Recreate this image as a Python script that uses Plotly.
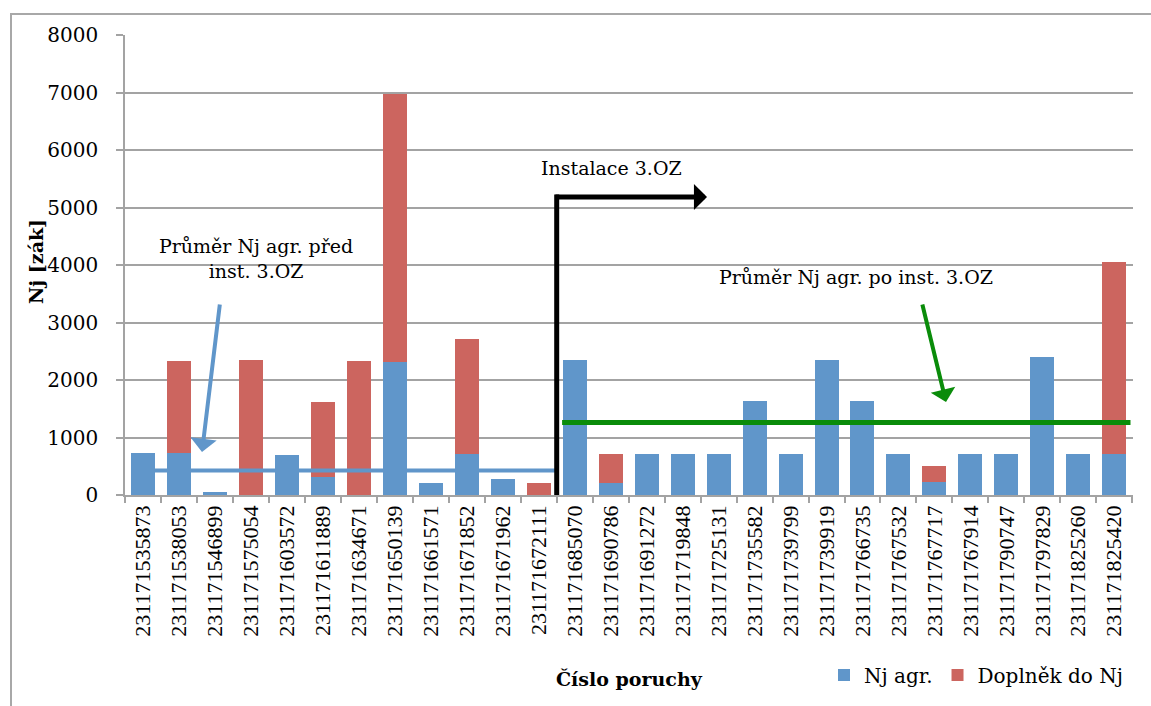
import plotly.graph_objects as go

# ---------------- data ----------------
categories = [
    "231171535873", "231171538053", "231171546899", "231171575054",
    "231171603572", "231171611889", "231171634671", "231171650139",
    "231171661571", "231171671852", "231171671962", "231171672111",
    "231171685070", "231171690786", "231171691272", "231171719848",
    "231171725131", "231171735582", "231171739799", "231171739919",
    "231171766735", "231171767532", "231171767717", "231171767914",
    "231171790747", "231171797829", "231171825260", "231171825420",
]
nj_agr = [725, 725, 50, 0, 690, 320, 0, 2313, 203, 713, 278, 0,
          2348, 203, 713, 713, 713, 1630, 713, 2348, 1630, 713, 220, 713,
          713, 2406, 713, 713]
doplnek = [0, 1610, 0, 2345, 0, 1303, 2325, 4667, 0, 1995, 0, 203,
           0, 510, 0, 0, 0, 0, 0, 0, 0, 0, 284, 0,
           0, 0, 0, 3337]
avg_before = 425      # Průměr Nj agr. před inst. 3.OZ
avg_after = 1260      # Průměr Nj agr. po inst. 3.OZ
split_index = 11.5    # boundary: Instalace 3.OZ
install_marker_y = 5180
y_ticks = [0, 1000, 2000, 3000, 4000, 5000, 6000, 7000, 8000]

BLUE = "#6096CA"
RED = "#CC655F"
GREEN = "#0A8C0A"
GRID = "#A3A3A3"
SERIF = "DejaVu Serif"

W, H = 1151, 706
L, R, T, B = 125, 18, 35, 211
PW, PH = W - L - R, H - T - B


def px(x):
    return (x - L) / PW


def py(y):
    return (H - B - y) / PH


fig = go.Figure()
fig.add_trace(go.Bar(x=categories, y=nj_agr, name="Nj agr.",
                     marker=dict(color=BLUE, line=dict(width=0))))
fig.add_trace(go.Bar(x=categories, y=doplnek, name="Doplněk do Nj",
                     marker=dict(color=RED, line=dict(width=0))))

shapes = [
    # outer chart border
    dict(type="rect", xref="paper", yref="paper",
         x0=px(11), x1=px(1165), y0=py(14), y1=py(720),
         line=dict(color="#A8A8A8", width=2), layer="below"),
    # average before
    dict(type="line", xref="x", yref="y", x0=0.33, x1=split_index,
         y0=avg_before, y1=avg_before, line=dict(color=BLUE, width=4)),
    # average after
    dict(type="line", xref="x", yref="y", x0=split_index + 0.15, x1=27.45,
         y0=avg_after, y1=avg_after, line=dict(color=GREEN, width=5)),
    # installation vertical line
    dict(type="line", xref="x", yref="y", x0=split_index, x1=split_index,
         y0=0, y1=install_marker_y + 45, line=dict(color="black", width=5)),
]

annotations = [
    # black elbow arrow head segment
    dict(xref="paper", yref="paper", x=px(707), y=py(197),
         ax=556 - 707 - 2, ay=0, text="", showarrow=True,
         arrowhead=1, arrowwidth=5, arrowsize=0.87, arrowcolor="black"),
    # blue arrow
    dict(xref="paper", yref="paper", x=px(202), y=py(452),
         ax=220 - 202, ay=303 - 452, text="", showarrow=True,
         arrowhead=1, arrowwidth=4, arrowsize=1.1, arrowcolor=BLUE),
    # green arrow
    dict(xref="paper", yref="paper", x=px(946), y=py(402),
         ax=922 - 946, ay=303 - 402, text="", showarrow=True,
         arrowhead=1, arrowwidth=4, arrowsize=1.05, arrowcolor=GREEN),
    # texts
    dict(xref="paper", yref="paper", x=px(256), y=py(258),
         text="Průměr Nj agr. před<br>inst. 3.OZ", showarrow=False,
         font=dict(family=SERIF, size=19, color="black"),
         xanchor="center", yanchor="middle"),
    dict(xref="paper", yref="paper", x=px(611), y=py(168),
         text="Instalace 3.OZ", showarrow=False,
         font=dict(family=SERIF, size=19, color="black"),
         xanchor="center", yanchor="middle"),
    dict(xref="paper", yref="paper", x=px(856), y=py(277),
         text="Průměr Nj agr. po inst. 3.OZ", showarrow=False,
         font=dict(family=SERIF, size=19, color="black"),
         xanchor="center", yanchor="middle"),
    # axis titles
    dict(xref="paper", yref="paper", x=px(629), y=py(679),
         text="<b>Číslo poruchy</b>", showarrow=False,
         font=dict(family=SERIF, size=19, color="black"),
         xanchor="center", yanchor="middle"),
    dict(xref="paper", yref="paper", x=px(36), y=py(262),
         text="<b>Nj [zák]</b>", showarrow=False, textangle=-90,
         font=dict(family=SERIF, size=19, color="black"),
         xanchor="center", yanchor="middle"),
]

fig.update_layout(
    width=W, height=H,
    margin=dict(l=L, r=R, t=T, b=B, autoexpand=False),
    barmode="stack", bargap=0.333,
    plot_bgcolor="white", paper_bgcolor="white",
    shapes=shapes, annotations=annotations,
    legend=dict(orientation="h", x=px(824), y=py(675),
                xanchor="left", yanchor="middle",
                font=dict(family=SERIF, size=20, color="black"),
                bgcolor="rgba(0,0,0,0)", traceorder="normal"),
    xaxis=dict(type="category", categoryorder="array", categoryarray=categories,
               tickangle=-90, tickson="boundaries", ticks="outside", ticklen=6,
               tickcolor=GRID, tickwidth=1.5, showline=True, linecolor=GRID,
               linewidth=1.5, showgrid=False,
               tickfont=dict(family="Liberation Serif", size=22, color="black")),
    yaxis=dict(range=[0, 8000], tickvals=y_ticks, ticks="outside", ticklen=7,
               tickcolor=GRID, tickwidth=1.5, showline=True, linecolor=GRID,
               linewidth=1.5, showgrid=True, gridcolor=GRID, gridwidth=1.5,
               zeroline=False, ticklabelstandoff=14,
               tickfont=dict(family=SERIF, size=20, color="black")),
)

fig.write_html("out.html")
